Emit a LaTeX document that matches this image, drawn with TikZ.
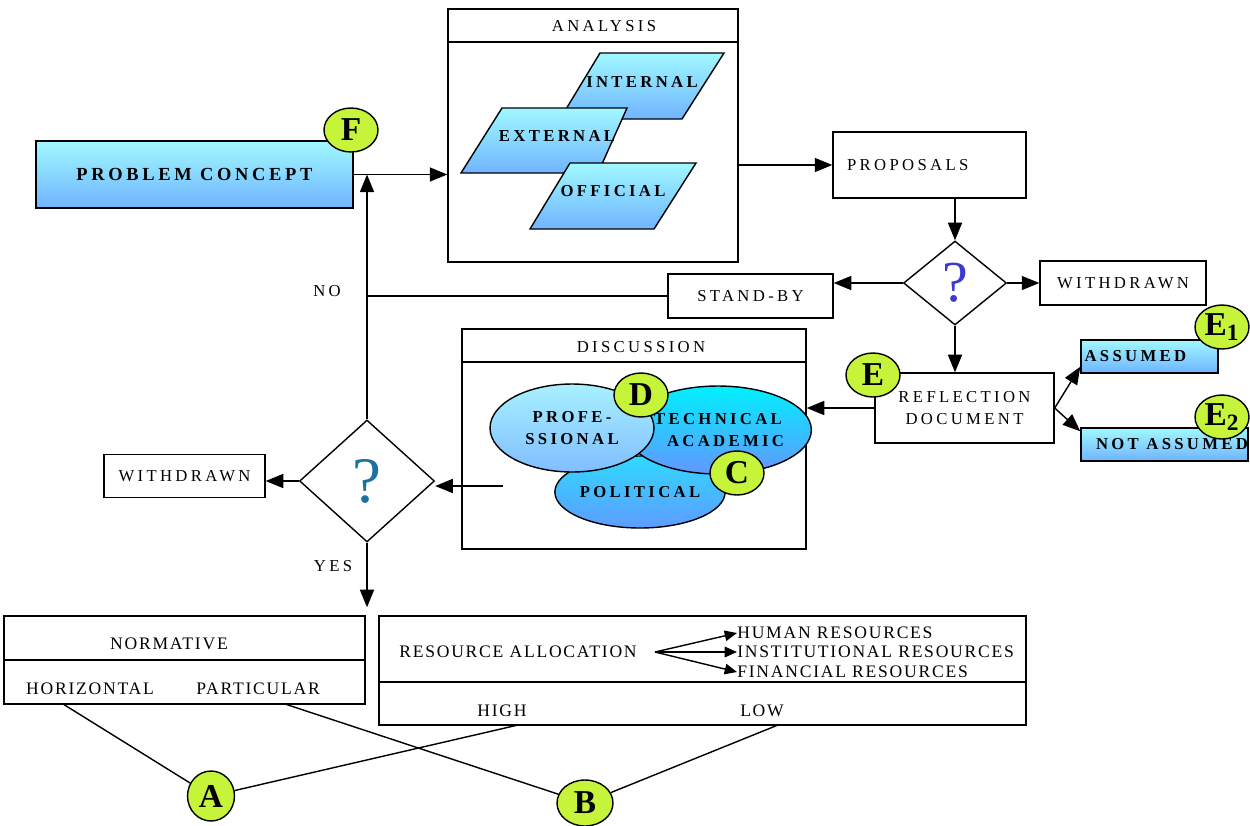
\documentclass[tikz,border=0pt]{standalone}
\usepackage{fontspec}
\setmainfont{Liberation Serif}
\newfontfamily\widefont[LetterSpace=20]{Liberation Serif}
\newfontfamily\semifont[LetterSpace=10]{Liberation Serif}
\usetikzlibrary{arrows.meta,shapes.geometric}

\definecolor{lime}{HTML}{C6F43A}
\definecolor{skytop}{HTML}{A0F8FF}
\definecolor{skybot}{HTML}{70B4FF}
\definecolor{proftop}{HTML}{A8F0FF}
\definecolor{profbot}{HTML}{80BEFF}
\definecolor{techtop}{HTML}{00F0FF}
\definecolor{techbot}{HTML}{6496FF}
\definecolor{poltop}{HTML}{30D8FF}
\definecolor{polbot}{HTML}{5E9CFF}
\definecolor{quest}{HTML}{3A3AD0}
\definecolor{questb}{HTML}{1F6FA0}

\tikzset{
  txt/.style={font=\widefont\fontsize{9.5}{13}\selectfont},
  btxt/.style={font=\widefont\fontsize{9.5}{13}\selectfont\bfseries},
  stxt/.style={font=\semifont\fontsize{10}{12}\selectfont},
  box/.style={draw, line width=0.8pt, inner sep=0pt},
  skybox/.style={box, top color=skytop, bottom color=skybot},
  para/.style={draw, line width=0.8pt, top color=skytop, bottom color=skybot},
  group/.style={ellipse, draw, line width=0.8pt, inner sep=0pt, align=center},
  marker/.style={ellipse, draw, line width=0.8pt, fill=lime, inner sep=0pt,
    minimum width=1.08cm, minimum height=0.88cm, font=\fontsize{19}{19}\selectfont\bfseries},
  decision/.style={diamond, draw, line width=0.8pt, inner sep=0pt, aspect=1},
  link/.style={line width=0.8pt},
  >={Triangle[length=10pt,width=8pt]}
}

\begin{document}
\begin{tikzpicture}[x=0.02cm, y=-0.02cm]
    \useasboundingbox (0,0) rectangle (1250,825);

    % Problem concept
    \node[skybox, btxt, font=\widefont\fontsize{10.5}{13}\selectfont\bfseries, minimum width=6.34cm, minimum height=1.34cm] (pc) at (194.5,174.5) {PROBLEM CONCEPT};
    \node[marker] (mF) at (351,130) {F};

    % Analysis
    \node[box, minimum width=5.8cm, minimum height=5.06cm] (ana) at (593,135.5) {};
    \draw[link] (ana.west |- 0,42) -- (ana.east |- 0,42);
    \node[txt] (anat) at (604,26) {ANALYSIS};
    \path[para] (600,53) -- (724,53) -- (682,119) -- (560,119) -- cycle;
    \node[btxt] (int) at (642,82) {INTERNAL};
    \path[para] (502,108) -- (627,108) -- (598,173) -- (461,173) -- cycle;
    \node[btxt] (ext) at (557,136) {EXTERNAL};
    \path[para] (570,163) -- (696,163) -- (654,229) -- (530,229) -- cycle;
    \node[btxt] (off) at (613,191) {OFFICIAL};

    % Proposals and first decision
    \node[box, txt, minimum width=3.86cm, minimum height=1.32cm, text width=3.3cm, align=left] (prop) at (929.5,165) {PROPOSALS};
    \node[decision, minimum width=2.06cm, minimum height=1.68cm, text=quest, font=\fontsize{33}{33}\selectfont] (d1) at (955,283) {?};
    \node[box, txt, minimum width=3.32cm, minimum height=0.88cm] (wd1) at (1123,283) {WITHDRAWN};
    \node[box, txt, minimum width=3.3cm, minimum height=0.88cm] (sb) at (750.5,296) {STAND-BY};

    % Reflection document
    \node[box, txt, minimum width=3.58cm, minimum height=1.4cm, align=center] (ref) at (964.5,408) {REFLECTION\\DOCUMENT};
    \node[marker] (mE) at (873,375) {E};
    \node[skybox, btxt, minimum width=2.74cm, minimum height=0.66cm, text width=2.6cm, align=left] (ass) at (1149.5,356.5) {ASSUMED};
    \node[marker] (mE1) at (1222,327) {E\textsubscript{1}};
    \node[skybox, btxt, minimum width=3.34cm, minimum height=0.66cm] (nass) at (1164.5,444.5) {\hspace{0.3cm}NOT ASSUMED};
    \node[marker] (mE2) at (1222,417) {E\textsubscript{2}};

    % Discussion
    \node[box, minimum width=6.88cm, minimum height=4.4cm] (dis) at (634,439) {};
    \draw[link] (dis.west |- 0,362) -- (dis.east |- 0,362);
    \node[txt] (dist) at (641,347) {DISCUSSION};
    \node[group, btxt, top color=poltop, bottom color=polbot, minimum width=3.32cm, minimum height=1.44cm] (pol) at (640,492) {\raisebox{-1.2ex}{POLITICAL}};
    \node[group, btxt, top color=techtop, bottom color=techbot, minimum width=3.04cm, minimum height=1.76cm] (tech) at (718,430) {TECHNICAL\\\hspace{0.3cm}ACADEMIC};
    \node[group, btxt, top color=proftop, bottom color=profbot, minimum width=3.28cm, minimum height=1.76cm] (prof) at (572,428) {PROFE-\\SSIONAL};
    \node[marker] (mD) at (641,395) {D};
    \node[marker] (mC) at (737,473) {C};
    \coordinate (disout) at (503,486);

    % Second decision
    \node[decision, minimum width=2.7cm, minimum height=2.44cm, text=questb, font=\fontsize{37}{37}\selectfont] (d2) at (367,481) {?};
    \node[box, txt, minimum width=3.22cm, minimum height=0.86cm] (wd2) at (184.5,476) {WITHDRAWN};

    % Connectors
    \draw[link, ->] (pc.east) -- (ana.west |- pc.east);
    \draw[link, ->] (ana.east |- prop.west) -- (prop.west);
    \draw[link, ->] (d1.north |- prop.south) -- (d1.north);
    \draw[link, ->] (d1.east) -- (wd1.west |- d1.east);
    \draw[link, ->] (d1.west) -- (sb.east |- d1.west);
    \draw[link] (sb.west) -- (sb.west -| d2.north);
    \draw[link, ->] (d1.south) -- (d1.south |- ref.north);
    \draw[link, ->] (ref.east) -- ([yshift=0.14cm]ass.south west);
    \draw[link, ->] (ref.east) -- ([yshift=-0.08cm]nass.north west);
    \draw[link, ->] (ref.west) -- (dis.east |- ref.west);
    \draw[link, ->] (disout) -- (d2.east |- disout);
    \draw[link, ->] (d2.west) -- (wd2.east |- d2.west);
    \draw[link, ->] (d2.north) -- (d2.north |- pc.east);
    \node[txt] (no) at (327,291) {NO};

    % Normative and resources
    \node[box, minimum width=7.22cm, minimum height=1.76cm] (norm) at (184.5,660) {};
    \draw[link] (norm.west) -- (norm.east);
    \node[stxt] (normt) at (169,644) {NORMATIVE};
    \node[stxt] (hor) at (90,689) {HORIZONTAL};
    \node[stxt] (par) at (258,689) {PARTICULAR};
    \node[box, minimum width=12.94cm, minimum height=2.18cm] (res) at (702.5,670.5) {};
    \draw[link] (res.west |- 0,682) -- (res.east |- 0,682);
    \node[stxt] (rest) at (518,652) {RESOURCE ALLOCATION};
    \coordinate (ra) at (655,652);
    \node[stxt, anchor=west, inner sep=0pt] (hum) at (737,633) {HUMAN RESOURCES};
    \node[stxt, anchor=west, inner sep=0pt] (ins) at (737,652) {INSTITUTIONAL RESOURCES};
    \node[stxt, anchor=west, inner sep=0pt] (fin) at (737,672) {FINANCIAL RESOURCES};
    \draw[link, -{Triangle[length=7pt,width=6pt]}] (ra) -- (hum.west);
    \draw[link, -{Triangle[length=7pt,width=6pt]}] (ra) -- (ins.west);
    \draw[link, -{Triangle[length=7pt,width=6pt]}] (ra) -- (fin.west);
    \node[stxt] (high) at (502,711) {HIGH};
    \node[stxt] (low) at (762,711) {LOW};
    \draw[link, ->, shorten >=0.16cm] (d2.south) -- (d2.south |- norm.north);
    \node[txt] (yes) at (333,566) {YES};

    % Combinations
    \coordinate (hfoot) at (63,704);
    \coordinate (pfoot) at (285,704);
    \coordinate (hifoot) at (518,725);
    \coordinate (lofoot) at (778,725);
    \node[marker, minimum width=0.94cm, minimum height=1cm] (mA) at (211,796) {A};
    \node[marker, minimum width=1.12cm, minimum height=0.92cm] (mB) at (585,803) {B};
    \draw[link] (hfoot) -- (mA);
    \draw[link] (mA) -- (hifoot);
    \draw[link] (pfoot) -- (mB);
    \draw[link] (mB) -- (lofoot);
\end{tikzpicture}
\end{document}
